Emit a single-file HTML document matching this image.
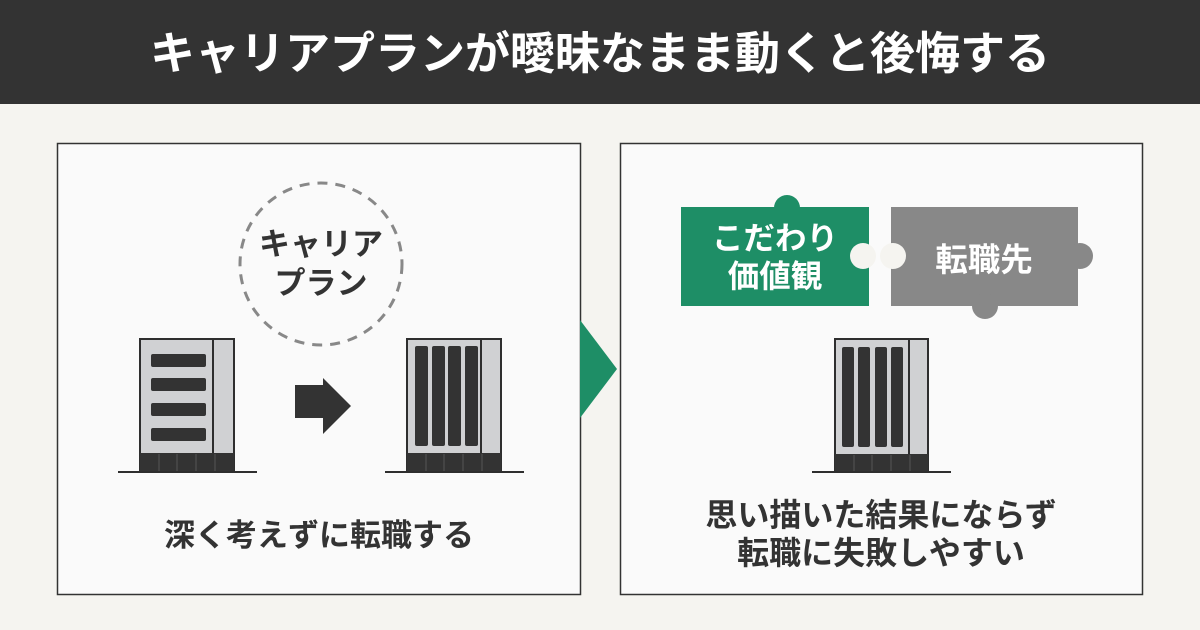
<!DOCTYPE html>
<html><head><meta charset="utf-8"><style>
body{margin:0;width:1200px;height:630px;overflow:hidden;background:#f5f4f0;font-family:"Liberation Sans","Noto Sans CJK JP",sans-serif;}
</style></head><body>
<svg width="1200" height="630" xmlns="http://www.w3.org/2000/svg" style="position:absolute;left:0;top:0">
<rect x="0" y="0" width="1200" height="630" fill="#f5f4f0"/>
<rect x="0" y="0" width="1200" height="104" fill="#333333"/>
<text x="600" y="69" text-anchor="middle" font-size="45" font-weight="bold" fill="#fff" font-family="Noto Sans CJK JP, sans-serif">キャリアプランが曖昧なまま動くと後悔する</text>
<rect x="57.5" y="143.5" width="523" height="451" fill="#fafafa" stroke="#333" stroke-width="1.5"/>
<rect x="620.5" y="143.5" width="522" height="451" fill="#fafafa" stroke="#333" stroke-width="1.5"/>
<polygon points="580,320 617,369 580,418" fill="#1e8e66"/>
<circle cx="321" cy="264" r="81" fill="none" stroke="#888" stroke-width="3" stroke-dasharray="10 8"/>
<g font-family="Noto Sans CJK JP, sans-serif" font-weight="bold" fill="#333" text-anchor="middle">
<text x="321" y="255" font-size="31">キャリア</text>
<text x="321" y="294" font-size="31">プラン</text>
<text x="319" y="546" font-size="31">深く考えずに転職する</text>
<text x="881" y="526" font-size="32">思い描いた結果にならず</text>
<text x="881" y="564" font-size="32">転職に失敗しやすい</text>
</g>
<rect x="140" y="339" width="94" height="133" fill="#d0d1d3" stroke="#2e2e2e" stroke-width="2"/>
<line x1="213" y1="339" x2="213" y2="453" stroke="#2e2e2e" stroke-width="2"/>
<rect x="140" y="453" width="94" height="19" fill="#333"/>
<g stroke="#555" stroke-width="1"><line x1="159" y1="454" x2="159" y2="472"/><line x1="177" y1="454" x2="177" y2="472"/><line x1="196" y1="454" x2="196" y2="472"/><line x1="215" y1="454" x2="215" y2="472"/></g>
<g fill="#333"><rect x="151" y="354" width="55" height="13" rx="2"/><rect x="151" y="378" width="55" height="13" rx="2"/><rect x="151" y="403" width="55" height="13" rx="2"/><rect x="151" y="428" width="55" height="13" rx="2"/></g>
<line x1="118" y1="472" x2="257" y2="472" stroke="#2e2e2e" stroke-width="2"/>
<rect x="295" y="385" width="29" height="33" fill="#333"/>
<polygon points="323,378 351,406 323,434" fill="#333"/>
<rect x="407" y="339" width="94" height="133" fill="#d0d1d3" stroke="#2e2e2e" stroke-width="2"/>
<line x1="481" y1="339" x2="481" y2="453" stroke="#2e2e2e" stroke-width="2"/>
<rect x="407" y="453" width="94" height="19" fill="#333"/>
<g stroke="#555" stroke-width="1"><line x1="426" y1="454" x2="426" y2="472"/><line x1="444" y1="454" x2="444" y2="472"/><line x1="463" y1="454" x2="463" y2="472"/><line x1="482" y1="454" x2="482" y2="472"/></g>
<g fill="#333"><rect x="415" y="346" width="13" height="100" rx="2"/><rect x="432" y="346" width="13" height="100" rx="2"/><rect x="448" y="346" width="13" height="100" rx="2"/><rect x="465" y="346" width="13" height="100" rx="2"/></g>
<line x1="385" y1="472" x2="524" y2="472" stroke="#2e2e2e" stroke-width="2"/>
<circle cx="787" cy="208" r="13" fill="#1e8e66"/>
<rect x="681" y="207" width="188" height="99" fill="#1e8e66"/>
<rect x="891" y="207" width="187" height="99" fill="#888"/>
<circle cx="1080" cy="256" r="13" fill="#888"/>
<circle cx="985" cy="306" r="13" fill="#888"/>
<circle cx="863" cy="256" r="13" fill="#f5f4f0"/>
<circle cx="893" cy="256" r="13" fill="#f5f4f0"/>
<g font-family="Noto Sans CJK JP, sans-serif" font-weight="bold" fill="#fff" text-anchor="middle">
<text x="775" y="249" font-size="31.5">こだわり</text>
<text x="775" y="287" font-size="31.5">価値観</text>
<text x="984" y="271" font-size="32.5">転職先</text>
</g>
<rect x="835" y="339" width="93" height="133" fill="#d0d1d3" stroke="#2e2e2e" stroke-width="2"/>
<line x1="909" y1="339" x2="909" y2="454" stroke="#2e2e2e" stroke-width="2"/>
<rect x="835" y="454" width="93" height="18" fill="#333"/>
<g stroke="#555" stroke-width="1"><line x1="854" y1="455" x2="854" y2="472"/><line x1="872" y1="455" x2="872" y2="472"/><line x1="891" y1="455" x2="891" y2="472"/><line x1="910" y1="455" x2="910" y2="472"/></g>
<g fill="#333"><rect x="842" y="347" width="12" height="100" rx="2"/><rect x="858" y="347" width="12" height="100" rx="2"/><rect x="875" y="347" width="12" height="100" rx="2"/><rect x="891" y="347" width="12" height="100" rx="2"/></g>
<line x1="812" y1="472" x2="951" y2="472" stroke="#2e2e2e" stroke-width="2"/>
</svg>
</body></html>
